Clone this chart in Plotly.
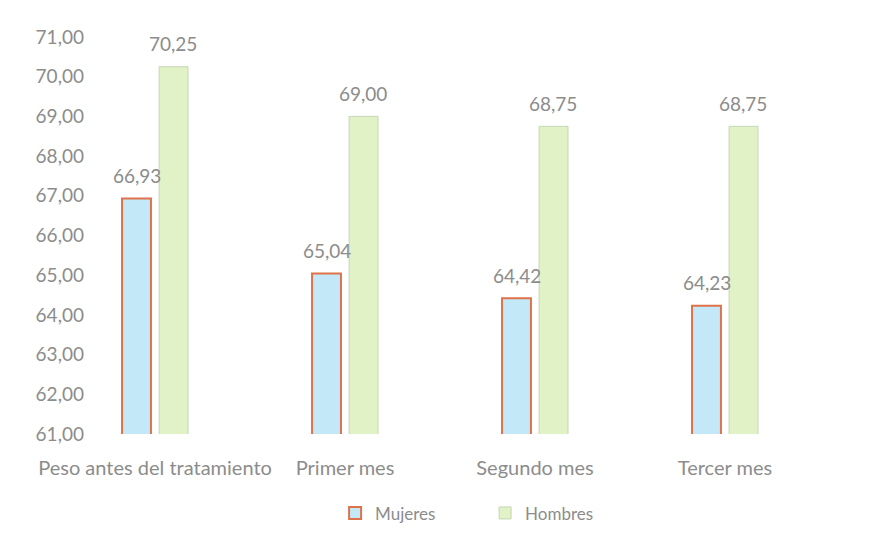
import plotly.graph_objects as go

categorias = ["Peso antes del tratamiento", "Primer mes", "Segundo mes", "Tercer mes"]
mujeres = [66.93, 65.04, 64.42, 64.23]
hombres = [70.25, 69.00, 68.75, 68.75]

texto = "#8c8c8c"
fuente = "Lato"
tam = 19

fig = go.Figure()
fig.add_trace(go.Bar(
    name="Mujeres", x=categorias, y=mujeres,
    marker=dict(color="#c3e8f8", line=dict(color="#e0724a", width=2)),
))
fig.add_trace(go.Bar(
    name="Hombres", x=categorias, y=hombres,
    marker=dict(color="#e0f2c6", line=dict(color="#c6d6b6", width=1)),
))

# Value labels above each bar, shifted to the centre of its bar in the group
for serie, desplaz in ((mujeres, -18), (hombres, 18)):
    for cat, val in zip(categorias, serie):
        fig.add_annotation(
            x=cat, y=val, xref="x", yref="y",
            text=f"{val:.2f}".replace(".", ","),
            showarrow=False, xshift=desplaz, yshift=23,
            font=dict(size=tam, color=texto, family=fuente),
        )

fig.update_layout(
    width=882, height=545,
    margin=dict(l=95, r=62, t=37, b=111, autoexpand=False),
    paper_bgcolor="white", plot_bgcolor="white",
    separators=",.",
    barmode="group", bargap=0.61, bargroupgap=0.22,
    font=dict(family=fuente, color=texto, size=tam),
    showlegend=True,
    legend=dict(orientation="h", x=0.55, xanchor="center", xref="container",
                y=0.058, yanchor="middle", yref="container",
                font=dict(size=17, color=texto), traceorder="normal",
                itemwidth=30, entrywidth=105, entrywidthmode="pixels"),
    xaxis=dict(range=[-0.316, 3.5], showline=False, showgrid=False, ticks="",
               ticklabelstandoff=20, tickfont=dict(size=20, color=texto)),
    yaxis=dict(range=[61, 71], dtick=1, tickformat=".2f", showgrid=False,
               showline=False, zeroline=False, ticks="", ticklabelstandoff=10,
               tickfont=dict(size=tam, color=texto)),
)

fig.write_html("out.html")
